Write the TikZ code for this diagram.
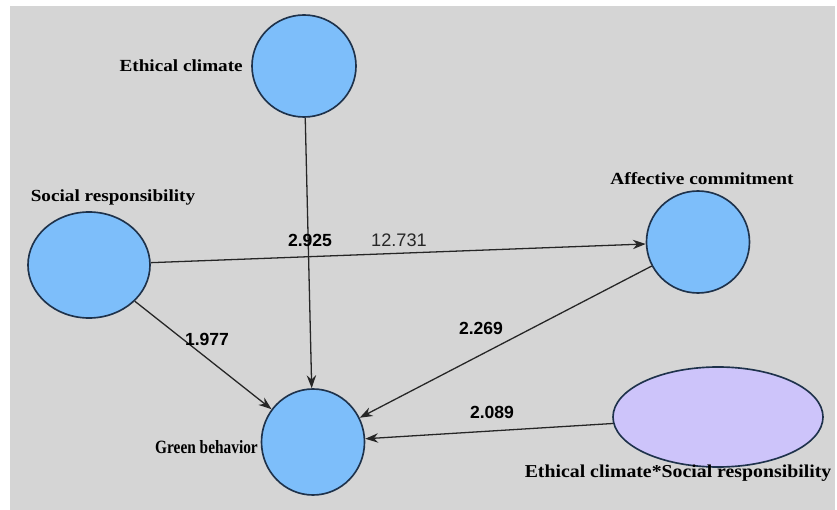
\documentclass[tikz,border=0pt]{standalone}
\usepackage{fontspec}
\setmainfont{Liberation Serif}
\newfontfamily\numfont{Liberation Sans}
\usetikzlibrary{shapes.geometric,arrows.meta}
\definecolor{bggray}{RGB}{213,213,213}
\definecolor{lvblue}{RGB}{125,190,250}
\definecolor{lvlilac}{RGB}{205,196,250}
\definecolor{rimnavy}{RGB}{30,50,75}

\tikzset{
  latent/.style={ellipse, draw=rimnavy, line width=1.4pt, fill=lvblue, inner sep=0pt},
  tag/.style={font=\bfseries\fontsize{14.5}{16}\selectfont, inner sep=0pt},
  coef/.style={font=\numfont\bfseries\fontsize{15}{17}\selectfont, inner sep=0pt},
  link/.style={line width=1.1pt, draw=black!85, -{Stealth[length=11pt,width=8pt]}}
}

\begin{document}
\begin{tikzpicture}[x=0.03cm, y=-0.03cm]

    \useasboundingbox (0,0) rectangle (837,510);
    \fill[bggray] (10,6) rectangle (835,510);

    % constructs
    \node[latent, minimum width=3.12cm, minimum height=3.06cm] (ec) at (304,66) {};
    \node[latent, minimum width=3.66cm, minimum height=3.18cm] (sr) at (89,265) {};
    \node[latent, minimum width=3.09cm, minimum height=3.06cm] (ac) at (698,242) {};
    \node[latent, minimum width=3.09cm, minimum height=3.18cm] (gb) at (313,442) {};
    \node[latent, fill=lvlilac, minimum width=6.3cm, minimum height=3cm] (ecsr) at (718,417) {};

    \node[tag, anchor=east, xscale=1.13] (ecname) at (243,66) {Ethical climate};
    \node[tag, xscale=1.13] (srname) at (113,197) {Social responsibility};
    \node[tag, xscale=1.14] (acname) at (702,179) {Affective commitment};
    \node[tag, anchor=east, font=\bfseries\fontsize{16}{18}\selectfont, xscale=0.82] (gbname) at (258,447) {Green behavior};
    \node[tag, font=\bfseries\fontsize{15.5}{17}\selectfont, xscale=1.09] (ecsrname) at (678,473) {Ethical climate*Social responsibility};

    % paths
    \draw[link] (ec) -- (gb);
    \draw[link] (sr) -- (ac);
    \draw[link] (sr) -- (gb);
    \draw[link] (ac) -- (gb);
    \draw[link] (ecsr) -- (gb);

    \node[coef] (c1) at (310,240) {2.925};
    \node[coef, font=\numfont\fontsize{15.5}{17}\selectfont, text=black!85] (c2) at (399,240) {12.731};
    \node[coef] (c3) at (207,339) {1.977};
    \node[coef] (c4) at (481,328) {2.269};
    \node[coef] (c5) at (492,412) {2.089};

\end{tikzpicture}
\end{document}
